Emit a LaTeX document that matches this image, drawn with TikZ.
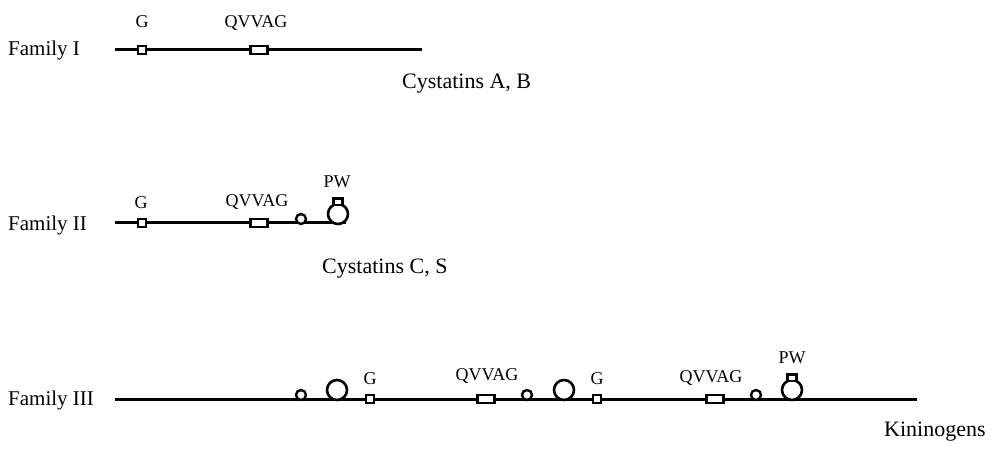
\documentclass[tikz,border=0pt]{standalone}
\usepackage{fontspec}
\setmainfont{Liberation Serif}
\begin{document}
\begin{tikzpicture}[x=1pt,y=-1pt,
  backbone/.style={line width=3pt},
  gbox/.style={draw,line width=2.4pt,fill=white,minimum width=8.5pt,minimum height=8.5pt,inner sep=0pt},
  qbox/.style={draw,line width=2.4pt,fill=white,minimum width=17pt,minimum height=8.5pt,inner sep=0pt},
  smallloop/.style={draw,line width=2.4pt,fill=white,circle,minimum size=10pt,inner sep=0pt,outer sep=0pt,anchor=south},
  bigloop/.style={draw,line width=2.6pt,fill=white,circle,minimum size=20pt,inner sep=0pt,outer sep=0pt,anchor=south},
  pwbox/.style={draw,line width=2.4pt,fill=white,minimum width=9pt,minimum height=6.5pt,inner sep=0pt,outer sep=0pt,anchor=south,yshift=-1pt},
  famlabel/.style={font=\fontsize{21}{23}\selectfont,anchor=base west,inner sep=0pt},
  motif/.style={font=\fontsize{18}{20}\selectfont,anchor=base,inner sep=0pt},
  groupname/.style={font=\fontsize{22}{25}\selectfont,anchor=base west,inner sep=0pt}
]
\useasboundingbox (0,0) rectangle (993,449);

% Family I
\node[famlabel] (f1) at (8,56) {Family I};
\coordinate (a1) at (115,50);
\coordinate (b1) at (422,50);
\draw[backbone] (a1) -- (b1);
\node[gbox] (g1) at (142,50) {};
\node[qbox] (q1) at (259,50) {};
\node[motif] (g1l) at (142,28) {G};
\node[motif] (q1l) at (256,28) {QVVAG};
\node[groupname] (c1) at (402,89) {Cystatins A, B};

% Family II
\node[famlabel] (f2) at (8,230) {Family II};
\coordinate (a2) at (115,223);
\coordinate (b2) at (346,223);
\draw[backbone] (a2) -- (b2);
\node[gbox] (g2) at (142,223) {};
\node[qbox] (q2) at (259,223) {};
\node[smallloop] (s2) at (301,224) {};
\node[bigloop] (o2) at (338,224) {};
\node[pwbox] (p2) at (o2.north) {};
\node[motif] (g2l) at (141,209) {G};
\node[motif] (q2l) at (257,207) {QVVAG};
\node[motif] (p2l) at (337,188) {PW};
\node[groupname] (c2) at (322,273) {Cystatins C, S};

% Family III
\node[famlabel] (f3) at (8,405) {Family III};
\coordinate (a3) at (115,399);
\coordinate (b3) at (917,399);
\draw[backbone] (a3) -- (b3);
\node[smallloop] (s3a) at (301,400) {};
\node[bigloop] (o3a) at (337,400) {};
\node[gbox] (g3a) at (370,399) {};
\node[qbox] (q3a) at (486,399) {};
\node[smallloop] (s3b) at (527,400) {};
\node[bigloop] (o3b) at (564,400) {};
\node[gbox] (g3b) at (597,399) {};
\node[qbox] (q3b) at (715,399) {};
\node[smallloop] (s3c) at (756,400) {};
\node[bigloop] (o3c) at (792,400) {};
\node[pwbox] (p3) at (o3c.north) {};
\node[motif] (g3al) at (370,384) {G};
\node[motif] (q3al) at (487,380) {QVVAG};
\node[motif] (g3bl) at (597,384) {G};
\node[motif] (q3bl) at (711,382) {QVVAG};
\node[motif] (p3l) at (792,363) {PW};
\node[groupname] (c3) at (884,436) {Kininogens};
\end{tikzpicture}
\end{document}
